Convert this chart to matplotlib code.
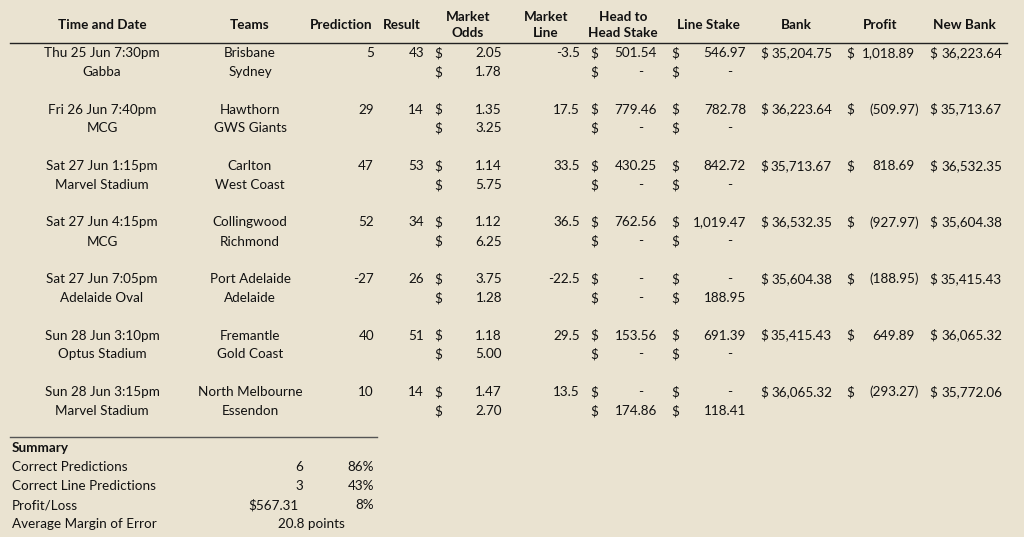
import matplotlib
matplotlib.use("Agg")
import matplotlib.pyplot as plt

BG = "#EAE3D1"
INK = "#111111"
FONT = "Lato"
FS = 9.7

# ---- data ----
dates = ["Thu 25 Jun 7:30pm", "Fri 26 Jun 7:40pm", "Sat 27 Jun 1:15pm", "Sat 27 Jun 4:15pm",
         "Sat 27 Jun 7:05pm", "Sun 28 Jun 3:10pm", "Sun 28 Jun 3:15pm"]
venues = ["Gabba", "MCG", "Marvel Stadium", "MCG", "Adelaide Oval", "Optus Stadium", "Marvel Stadium"]
home = ["Brisbane", "Hawthorn", "Carlton", "Collingwood", "Port Adelaide", "Fremantle", "North Melbourne"]
away = ["Sydney", "GWS Giants", "West Coast", "Richmond", "Adelaide", "Gold Coast", "Essendon"]
prediction = [5, 29, 47, 52, -27, 40, 10]
result = [43, 14, 53, 34, 26, 51, 14]
odds_home = [2.05, 1.35, 1.14, 1.12, 3.75, 1.18, 1.47]
odds_away = [1.78, 3.25, 5.75, 6.25, 1.28, 5.00, 2.70]
market_line = [-3.5, 17.5, 33.5, 36.5, -22.5, 29.5, 13.5]
h2h_home = [501.54, 779.46, 430.25, 762.56, 0, 153.56, 0]
h2h_away = [0, 0, 0, 0, 0, 0, 174.86]
line_home = [546.97, 782.78, 842.72, 1019.47, 0, 691.39, 0]
line_away = [0, 0, 0, 0, 188.95, 0, 118.41]
bank = [35204.75, 36223.64, 35713.67, 36532.35, 35604.38, 35415.43, 36065.32]
profit = [1018.89, -509.97, 818.69, -927.97, -188.95, 649.89, -293.27]
new_bank = [36223.64, 35713.67, 36532.35, 35604.38, 35415.43, 36065.32, 35772.06]

headers = ["Time and Date", "Teams", "Prediction", "Result", "Market\nOdds", "Market\nLine",
           "Head to\nHead Stake", "Line Stake", "Bank", "Profit", "New Bank"]

summary_labels = ["Correct Predictions", "Correct Line Predictions", "Profit/Loss", "Average Margin of Error"]
summary_values = ["6", "3", "$567.31", "20.8 points"]
summary_pcts = ["86%", "43%", "8%", ""]

# ---- layout (pixels) ----
header_x = [102, 250, 341, 402, 468, 546, 623, 708, 796, 880, 964]
Y0, STEP, LINE = 53, 56.5, 19

fig = plt.figure(figsize=(10.24, 5.37), dpi=100, facecolor=BG)
ax = fig.add_axes([0, 0, 1, 1])
ax.set_xlim(0, 1024)
ax.set_ylim(537, 0)
ax.axis("off")
ax.set_facecolor(BG)


def txt(x, y, s, ha="center", bold=False):
    ax.text(x, y, s, ha=ha, va="center", fontsize=FS, family=FONT, color=INK,
            fontweight="bold" if bold else "normal", linespacing=1.4)


def acct(y, dollar_x, right_x, v):
    # accounting format: $ on the left, dash for zero, brackets for negatives
    txt(dollar_x, y, "$", ha="left")
    if v == 0:
        txt(right_x - 16, y, "-")
    elif v < 0:
        txt(right_x + 4, y, f"({-v:,.2f})", ha="right")
    else:
        txt(right_x, y, f"{v:,.2f}", ha="right")


for hx, h in zip(header_x, headers):
    txt(hx, 25, h, bold=True)
ax.plot([10, 1007], [43, 43], color="#222222", lw=1.0)

for i in range(len(dates)):
    y1 = Y0 + i * STEP
    y2 = y1 + LINE
    txt(102, y1, dates[i])
    txt(102, y2, venues[i])
    txt(250, y1, home[i])
    txt(250, y2, away[i])
    txt(374, y1, str(prediction[i]), ha="right")
    txt(424, y1, str(result[i]), ha="right")
    txt(434, y1, "$", ha="left")
    txt(502, y1, f"{odds_home[i]:.2f}", ha="right")
    txt(434, y2, "$", ha="left")
    txt(502, y2, f"{odds_away[i]:.2f}", ha="right")
    txt(580, y1, f"{market_line[i]:g}", ha="right")
    acct(y1, 590, 657, h2h_home[i])
    acct(y2, 590, 657, h2h_away[i])
    acct(y1, 671, 746, line_home[i])
    acct(y2, 671, 746, line_away[i])
    acct(y1, 760, 832, bank[i])
    acct(y1, 846, 915, profit[i])
    acct(y1, 929, 1002, new_bank[i])

ax.plot([10, 377], [437, 437], color="#555555", lw=1.0)
txt(12, 448, "Summary", ha="left", bold=True)
for j, lab in enumerate(summary_labels):
    y = 467 + j * 19
    txt(12, y, lab, ha="left")
    if summary_values[j].endswith("points"):
        txt(311, y, summary_values[j])
    else:
        txt(303 if not summary_values[j].startswith("$") else 299, y, summary_values[j], ha="right")
    if summary_pcts[j]:
        txt(374, y, summary_pcts[j], ha="right")

fig.savefig("out.png", dpi=100, facecolor=BG)
